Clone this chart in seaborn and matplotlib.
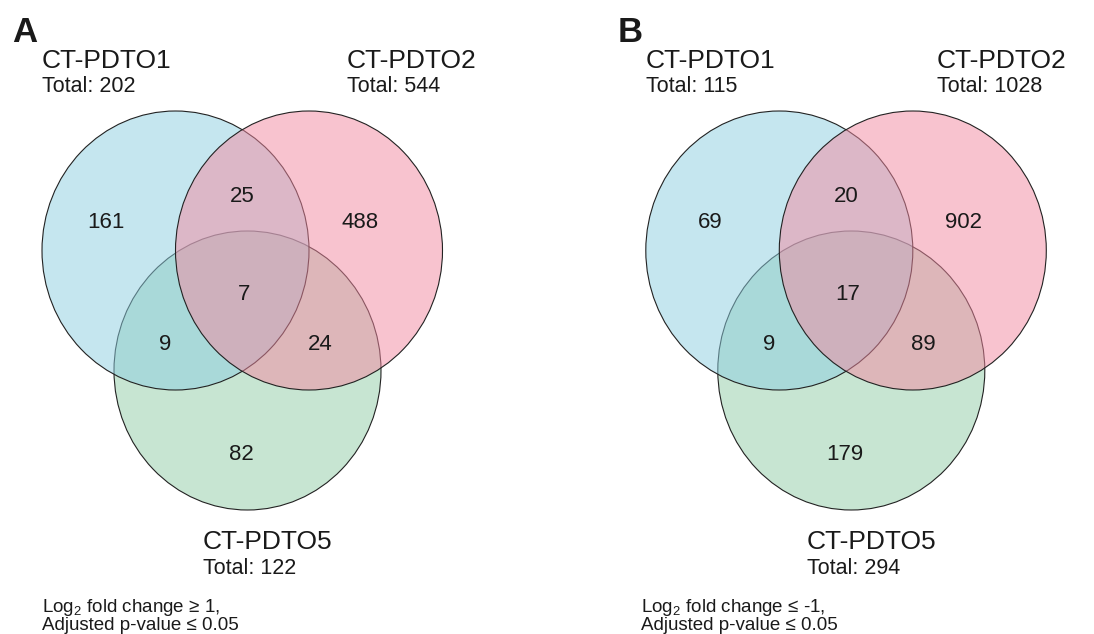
import matplotlib
matplotlib.use("Agg")
import matplotlib.pyplot as plt
from matplotlib.patches import Ellipse
import seaborn as sns

# --- data -------------------------------------------------------------
set_names = ["CT-PDTO1", "CT-PDTO2", "CT-PDTO5"]
# region order: only1, only2, 1&2, only5, 1&5, 2&5, 1&2&5
region_keys = ["100", "010", "110", "001", "101", "011", "111"]
up_counts = [161, 488, 25, 82, 9, 24, 7]
down_counts = [69, 902, 20, 179, 9, 89, 17]
panel_letters = ["A", "B"]
thresholds = ["Log$_2$ fold change \u2265 1,\nAdjusted p-value \u2264 0.05",
              "Log$_2$ fold change \u2264 -1,\nAdjusted p-value \u2264 0.05"]

# --- style ------------------------------------------------------------
sns.set_theme(style="white")
plt.rcParams["font.family"] = ["Liberation Sans", "DejaVu Sans"]
plt.rcParams["mathtext.fontset"] = "custom"
plt.rcParams["mathtext.rm"] = "Liberation Sans"
plt.rcParams["mathtext.default"] = "regular"

fill_colors = ["#8dcfe1", "#f389a1", "#91cda7"]  # blue, pink, green
draw_order = [2, 0, 1]                            # green, blue, pink

# layout in pixel units (figure is 1094 x 634)
circle_w, circle_h = 267, 279
circle_centers = [(175.5, 250.5), (309.0, 250.5), (247.5, 370.5)]
label_pos = {"100": (106, 223), "010": (360, 223), "110": (242, 197),
             "001": (241, 454), "101": (165, 344), "011": (320, 344),
             "111": (244, 295)}
panel_dx = [0.0, 603.8]
name_pos = [[(42, 67.5), (347, 67.5), (203, 549)],
            [(646, 67.5), (937, 67.5), (807, 549)]]
letter_pos = [(12, 42), (618, 42)]
footer_pos = [(42.5, 612), (641, 612)]


def set_totals(counts):
    d = dict(zip(region_keys, counts))
    return [sum(v for k, v in d.items() if k[i] == "1") for i in range(3)]


fig = plt.figure(figsize=(10.94, 6.34), dpi=100)
ax = fig.add_axes([0, 0, 1, 1])
ax.set_xlim(0, 1094)
ax.set_ylim(634, 0)
ax.set_axis_off()

for p, counts in enumerate([up_counts, down_counts]):
    dx = panel_dx[p]
    for i in draw_order:
        cx, cy = circle_centers[i]
        ax.add_patch(Ellipse((cx + dx, cy), circle_w, circle_h,
                             facecolor=fill_colors[i], alpha=0.5,
                             edgecolor="none", zorder=1 + draw_order.index(i)))
        ax.add_patch(Ellipse((cx + dx, cy), circle_w, circle_h,
                             facecolor="none", edgecolor="#222222",
                             linewidth=0.8, zorder=1.5 + draw_order.index(i)))
    for key, val in zip(region_keys, counts):
        x, y = label_pos[key]
        ax.text(x + dx, y, str(val), ha="center", va="center",
                fontsize=16, color="#1a1a1a", zorder=10)
    totals = set_totals(counts)
    for i in range(3):
        x, y = name_pos[p][i]
        ax.text(x, y, set_names[i], ha="left", va="baseline",
                fontsize=19, color="#1a1a1a", zorder=10)
        ax.text(x, y + 24.5, f"Total: {totals[i]}", ha="left",
                va="baseline", fontsize=15.5, color="#1a1a1a", zorder=10)
    lx, ly = letter_pos[p]
    ax.text(lx, ly, panel_letters[p], ha="left", va="baseline",
            fontsize=25, fontweight="bold", color="#1a1a1a")
    fx, fy = footer_pos[p]
    line1, line2 = thresholds[p].split("\n")
    ax.text(fx, fy, line1, ha="left", va="baseline", fontsize=13.5,
            color="#1a1a1a")
    ax.text(fx, fy + 18, line2, ha="left", va="baseline", fontsize=13.5,
            color="#1a1a1a")

fig.savefig("out.png", dpi=100, facecolor="white")
